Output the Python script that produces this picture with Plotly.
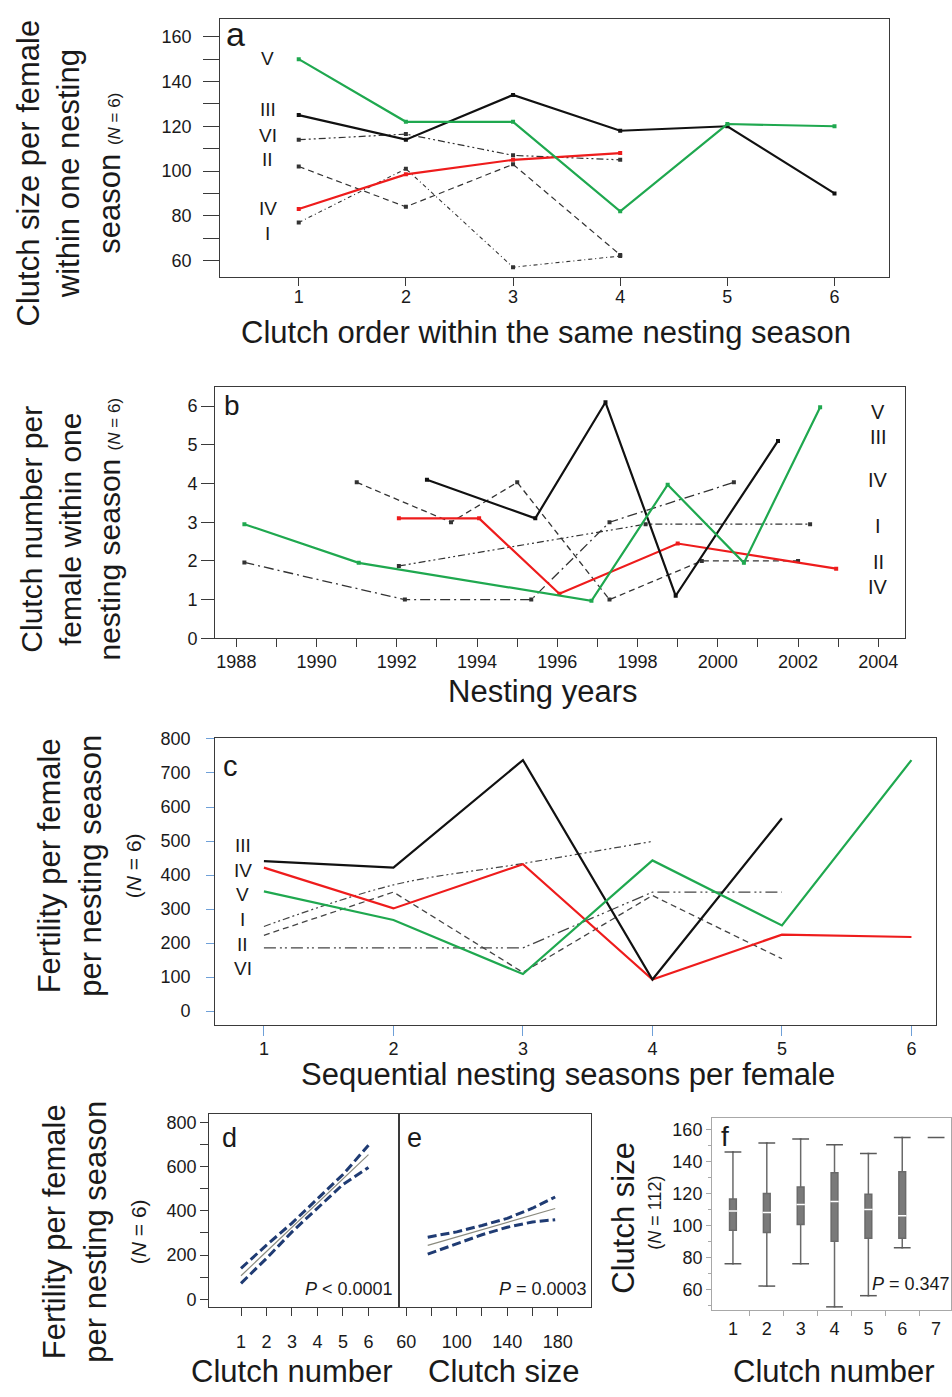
import plotly.graph_objects as go

W, H = 952, 1397
FONT = "Liberation Sans, Arial, Helvetica, sans-serif"
INK = "#1a1a1a"
GREEN = "#1fa84f"
RED = "#ee1c1c"
BLACK = "#111111"
GREY = "#333333"
NAVY = "#1f3b73"
BOXGREY = "#7a7a7a"

# ---------------- panel a: clutch size per clutch order ----------------
clutch_order = [1, 2, 3, 4, 5, 6]
a_I = [77, 101, 57, 62]
a_II = [102, 84, 103, 62.5]
a_III = [125, 114, 134, 118, 120, 90]
a_IV = [83, 98.5, 105, 108]
a_V = [150, 122, 122, 82, 121, 120]
a_VI = [114, 116.5, 107, 105]

# ---------------- panel b: clutches per season by year ----------------
b_I_years = [1992.05, 1998.2, 2002.3]
b_I = [1.87, 2.95, 2.95]
b_II_years = [1991.0, 1993.35, 1995.0, 1997.3, 1999.6, 2002.0]
b_II = [4.03, 3.0, 4.03, 1.0, 2.0, 2.0]
b_III_years = [1992.75, 1995.45, 1997.2, 1998.95, 2001.5]
b_III = [4.1, 3.1, 6.1, 1.1, 5.1]
b_IV_years = [1992.05, 1994.05, 1996.05, 1999.0, 2002.95]
b_IV = [3.1, 3.1, 1.15, 2.45, 1.8]
b_V_years = [1988.2, 1991.05, 1996.85, 1998.75, 2000.65, 2002.55]
b_V = [2.95, 1.95, 0.97, 3.97, 1.95, 5.97]
b_VI_years = [1988.2, 1992.2, 1995.35, 1997.3, 2000.4]
b_VI = [1.96, 1.0, 1.0, 3.0, 4.03]
year_ticks = list(range(1988, 2005, 2))

# ---------------- panel c: fertility per nesting season ----------------
seasons = [1, 2, 3, 4, 5, 6]
c_I = [249, 371, 434, 499]
c_II = [223, 350, 114, 340, 154]
c_III = [441, 422, 738, 93, 567]
c_IV = [422, 302, 432, 93, 225, 218]
c_V = [352, 268, 109, 443, 252, 738]
c_VI = [186, 186, 186, 350, 350]

# ---------------- panel d: fertility vs clutch number ----------------
d_x = [1, 2, 3, 4, 5, 6]
d_fit = [106, 215, 325, 435, 545, 655]
d_upper = [140, 245, 345, 455, 565, 697]
d_lower = [72, 185, 305, 412, 520, 597]

# ---------------- panel e: fertility vs clutch size ----------------
e_x = [77, 100, 120, 140, 160, 178]
e_fit = [244, 282, 315, 348, 381, 411]
e_upper = [281, 305, 334, 366, 412, 463]
e_lower = [204, 250, 292, 326, 350, 360]

# ---------------- panel f: clutch size by clutch number ----------------
f_clutch = [1, 2, 3, 4, 5, 6]
f_low = [76, 62, 76, 49, 56, 86]
f_q1 = [97, 95.5, 100.5, 90, 92, 92]
f_med = [109, 108, 113, 115, 110, 106]
f_q3 = [116.5, 120, 124, 133, 119.5, 133.5]
f_high = [146, 151.5, 154, 150.5, 145, 155]
f_single_clutch = [7]
f_single = [155]


def px(x):
    return x / W


def py(y):
    return 1 - y / H


fig = go.Figure()


def line(x, y, ax, color, width=2, dash="solid", markers=True, shape="linear"):
    fig.add_trace(go.Scatter(
        x=x, y=y, xaxis="x" + ax, yaxis="y" + ax,
        mode="lines+markers" if markers else "lines",
        line=dict(color=color, width=width, dash=dash, shape=shape),
        marker=dict(symbol="square", size=4, color=color),
        hoverinfo="skip"))


DASH = "6px,4px"
DASHDOT = "10px,4px,2px,4px"
DASHDOTDOT = "7px,3px,2px,3px,2px,3px"
FINE = "4px,3px,1px,3px"

# panel a
line(clutch_order[:4], a_I, "", GREY, 1.1, FINE)
line(clutch_order[:4], a_II, "", GREY, 1.2, DASH)
line(clutch_order[:4], a_VI, "", GREY, 1.2, DASHDOTDOT)
line(clutch_order[:4], a_IV, "", RED, 2.2)
line(clutch_order, a_III, "", BLACK, 2.2)
line(clutch_order, a_V, "", GREEN, 2.2)

# panel b
line(b_I_years, b_I, "2", GREY, 1.2, DASHDOTDOT)
line(b_II_years, b_II, "2", GREY, 1.3, DASH)
line(b_VI_years, b_VI, "2", GREY, 1.3, DASHDOT)
line(b_IV_years, b_IV, "2", RED, 2.2)
line(b_III_years, b_III, "2", BLACK, 2.2)
line(b_V_years, b_V, "2", GREEN, 2.2)

# panel c
line(seasons[:4], c_I, "3", "#444444", 1.2, DASHDOTDOT, False, "spline")
line(seasons[:5], c_II, "3", "#444444", 1.3, DASH, False)
line(seasons[:5], c_VI, "3", "#444444", 1.3, "12px,4px,2px,3px,2px,4px", False)
line(seasons, c_IV, "3", RED, 2.2, markers=False)
line(seasons[:5], c_III, "3", BLACK, 2.2, markers=False)
line(seasons, c_V, "3", GREEN, 2.2, markers=False)

# panel d and e: regression line with confidence limits
for xs, fit, up, lo, ax in [(d_x, d_fit, d_upper, d_lower, "4"),
                            (e_x, e_fit, e_upper, e_lower, "5")]:
    line(xs, up, ax, NAVY, 3, "9px,4px", False)
    line(xs, lo, ax, NAVY, 3, "9px,4px", False)
    line(xs, fit, ax, "#8a8a7e", 1.2, markers=False)

# panel f: box plots from summary statistics
fig.add_trace(go.Box(
    x=f_clutch, q1=f_q1, median=f_med, q3=f_q3,
    lowerfence=f_low, upperfence=f_high,
    xaxis="x6", yaxis="y6", width=0.2, whiskerwidth=0.3,
    fillcolor=BOXGREY, line=dict(color="#6a6a6a", width=1.5),
    boxpoints=False, hoverinfo="skip"))
fig.add_trace(go.Scatter(
    x=f_clutch + f_clutch + f_single_clutch, y=f_low + f_high + f_single,
    xaxis="x6", yaxis="y6", mode="markers",
    marker=dict(symbol="line-ew", size=12, line=dict(color="#5a5a5a", width=1.5)),
    hoverinfo="skip"))
fig.add_trace(go.Scatter(
    x=f_clutch, y=f_med, xaxis="x6", yaxis="y6", mode="markers",
    marker=dict(symbol="line-ew", size=6, line=dict(color="white", width=1.5)),
    hoverinfo="skip"))


def axis(domain, rng, **kw):
    base = dict(domain=domain, range=rng, showgrid=False, zeroline=False,
                showline=True, linecolor="#3a3a3a", linewidth=1, mirror=True,
                ticks="outside", tickcolor="#3a3a3a", ticklen=8,
                tickfont=dict(size=18, family=FONT, color=INK))
    base.update(kw)
    return base


fig.update_layout(
    width=W, height=H, margin=dict(l=0, r=0, t=0, b=0),
    paper_bgcolor="white", plot_bgcolor="white", showlegend=False,
    font=dict(family=FONT, color=INK),
    # a
    xaxis=axis([px(218), px(890)], [0.266, 6.511], anchor="y",
               tickvals=clutch_order, ticklabelstandoff=-5),
    yaxis=axis([py(272), py(10)], [52.5, 168], anchor="x",
               tickvals=[60, 80, 100, 120, 140, 160], ticklen=16,
               minor=dict(dtick=10, ticks="outside", ticklen=16, tickcolor="#3a3a3a"),
               ticklabelstandoff=8),
    # b
    xaxis2=axis([px(213), px(906)], [1987.47, 2004.67], anchor="y2",
                tickvals=year_ticks, ticklabelstandoff=-1,
                minor=dict(dtick=1, ticks="outside", ticklen=8, tickcolor="#3a3a3a")),
    yaxis2=axis([py(638), py(383)], [0, 6.5], anchor="x2",
                tickvals=[0, 1, 2, 3, 4, 5, 6], ticklen=13),
    # c
    xaxis3=axis([px(213), px(937)], [0.623, 6.19], anchor="y3",
                tickvals=seasons, tickcolor="#6fa0d8", ticklen=10,
                ticklabelstandoff=-3),
    yaxis3=axis([py(1030), py(739)], [-40.6, 803], anchor="x3",
                tickvals=list(range(0, 801, 100)), tickcolor="#6fa0d8",
                ticklabelstandoff=12),
    # d
    xaxis4=axis([px(207), px(398)], [-0.25, 7.21], anchor="y4",
                tickvals=d_x, ticklabelstandoff=10),
    yaxis4=axis([py(1316), py(1120)], [-35.8, 840], anchor="x4",
                tickvals=[0, 200, 400, 600, 800],
                minor=dict(dtick=100, ticks="outside", ticklen=8, tickcolor="#3a3a3a")),
    # e
    xaxis5=axis([px(398), px(590)], [54.5, 206], anchor="y5",
                tickvals=[60, 100, 140, 180], ticklabelstandoff=10,
                minor=dict(tickvals=[80, 120, 160], ticks="outside", ticklen=8,
                           tickcolor="#3a3a3a")),
    yaxis5=axis([py(1316), py(1120)], [-35.8, 840], anchor="x5",
                showticklabels=False, ticks=""),
    # f
    xaxis6=axis([px(712), 1.0], [0.382, 7.44], anchor="y6",
                tickvals=[1, 2, 3, 4, 5, 6, 7], ticks="", linecolor="#a8a8a8",
                ticklabelstandoff=2,
                minor=dict(tickvals=[1.5, 2.5, 3.5, 4.5, 5.5, 6.5], ticks="outside",
                           ticklen=5, tickcolor="#a8a8a8")),
    yaxis6=axis([py(1319), py(1124)], [47, 167.4], anchor="x6",
                tickvals=[60, 80, 100, 120, 140, 160], ticklen=5,
                linecolor="#a8a8a8", tickcolor="#a8a8a8",
                minor=dict(dtick=10, ticks="outside", ticklen=3, tickcolor="#a8a8a8")),
)


def note(text, x, y, size, **kw):
    d = dict(text=text, x=px(x), y=py(y), xref="paper", yref="paper",
             showarrow=False, font=dict(size=size, family=FONT, color=INK),
             xanchor="center", yanchor="middle")
    d.update(kw)
    return d


small = "<span style='font-size:{}px'>(<i>N</i> = {})</span>"
ann = []
# panel letters
ann += [note("a", 233, 25, 34), note("b", 230, 402, 28), note("c", 228, 767, 29),
        note("d", 227, 1145, 27), note("e", 413, 1145, 27), note("f", 725, 1143, 28)]
# female identifiers
for t, y in [("V", 50), ("III", 102), ("VI", 128), ("II", 153), ("IV", 202), ("I", 228)]:
    ann.append(note(t, 266, y, 19))
for t, y in [("V", 409), ("III", 434), ("IV", 477), ("I", 524), ("II", 561), ("IV", 586)]:
    ann.append(note(t, 879, y, 20))
for t, y in [("III", 848), ("IV", 873), ("V", 898), ("I", 923), ("II", 948), ("VI", 973)]:
    ann.append(note(t, 241, y, 19))
# axis titles
ann += [
    note("Clutch order within the same nesting season", 545, 328, 31),
    note("Nesting years", 542, 692, 31),
    note("Sequential nesting seasons per female", 567, 1080, 31),
    note("Clutch number", 290, 1381, 31),
    note("Clutch size", 503, 1381, 31),
    note("Clutch number", 835, 1381, 31),
    note("Clutch size per female<br>within one nesting<br>season " + small.format(17, 6),
         66, 166, 31, textangle=-90),
    note("Clutch number per<br>female within one<br>nesting season " + small.format(17, 6),
         68, 527, 30, textangle=-90),
    note("Fertility per female<br>per nesting season<br>" + small.format(21, 6),
         86, 869, 31, textangle=-90),
    note("Fertility per female<br>per nesting season<br>" + small.format(21, 6),
         91, 1240, 31, textangle=-90),
    note("Clutch size", 623, 1225, 31, textangle=-90),
    note("(<i>N</i> = 112)", 655, 1220, 18, textangle=-90),
]
# P values
ann += [
    note("<i>P</i> &lt; 0.0001", 394, 1298, 18, xanchor="right"),
    note("<i>P</i> = 0.0003", 588, 1298, 18, xanchor="right"),
    note("<i>P</i> = 0.347", 871, 1293, 18, xanchor="left"),
]
fig.update_layout(annotations=ann)

fig.write_html("out.html")
